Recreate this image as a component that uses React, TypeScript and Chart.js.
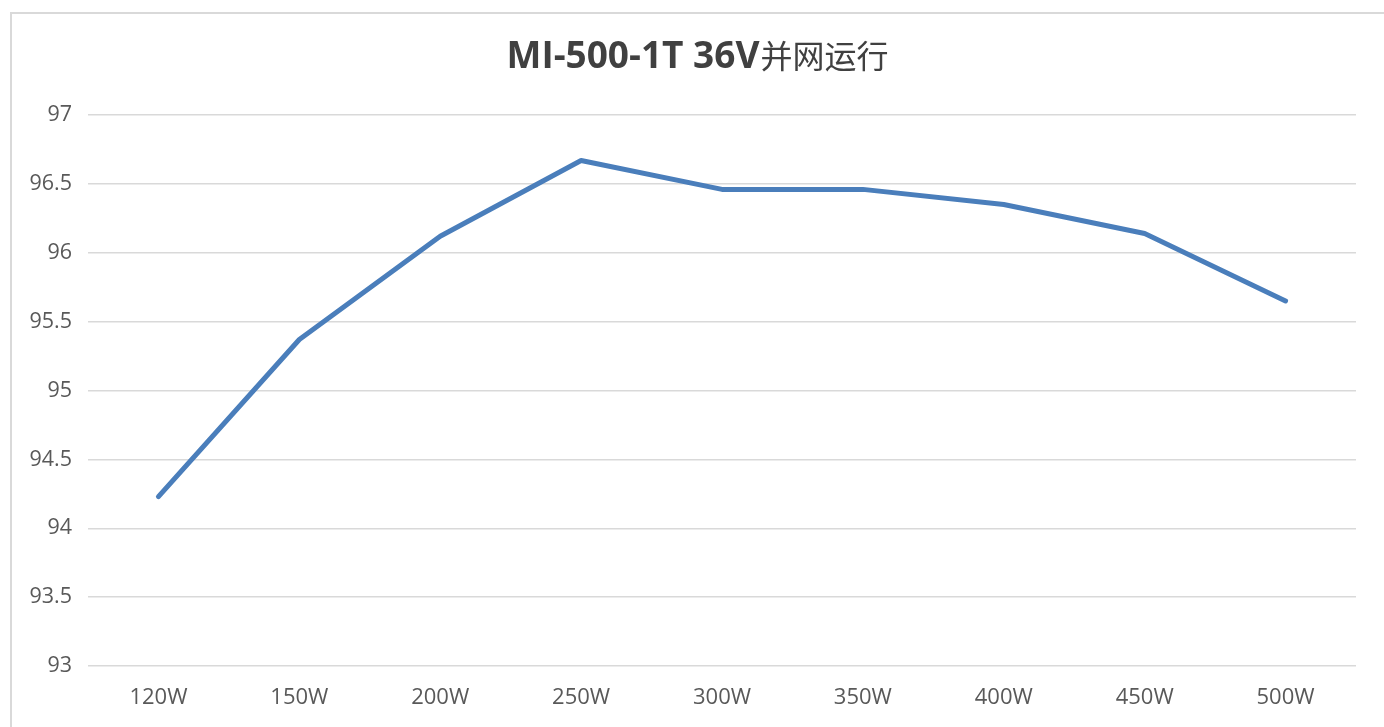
import React, { useEffect, useRef } from "react";
import { Chart, registerables } from "chart.js";

Chart.register(...registerables);

const titleLatin = "MI-500-1T 36V";
const titleCjk = "并网运行";
const categories = ["120W", "150W", "200W", "250W", "300W", "350W", "400W", "450W", "500W"];
const efficiency = [94.23, 95.37, 96.12, 96.67, 96.46, 96.46, 96.35, 96.14, 95.65];
const yMin = 93;
const yMax = 97;
const yStep = 0.5;

const mixedTitle = {
  id: "mixedTitle",
  afterDraw(chart: any) {
    const ctx = chart.ctx;
    ctx.save();
    const latinFont = "bold 37px 'Open Sans', sans-serif";
    const cjkFont = "32px 'Noto Sans CJK SC', sans-serif";
    ctx.font = latinFont;
    const w1 = ctx.measureText(titleLatin).width;
    ctx.font = cjkFont;
    const w2 = ctx.measureText(titleCjk).width;
    const total = w1 + w2;
    const cx = 697;
    const x0 = cx - total / 2;
    const baseY = 68;
    ctx.fillStyle = "#404040";
    ctx.textBaseline = "alphabetic";
    ctx.textAlign = "left";
    ctx.font = latinFont;
    ctx.fillText(titleLatin, x0, baseY);
    ctx.font = cjkFont;
    ctx.fillText(titleCjk, x0 + w1 + 1, baseY);
    ctx.restore();
  },
};

export default function App() {
  const ref = useRef<HTMLCanvasElement | null>(null);

  useEffect(() => {
    if (!ref.current) return;
    const chart = new Chart(ref.current, {
      type: "line",
      data: {
        labels: categories,
        datasets: [
          {
            data: efficiency,
            borderColor: "#4a7ebb",
            backgroundColor: "#4a7ebb",
            borderWidth: 5,
            pointRadius: 0,
            pointHoverRadius: 0,
            tension: 0,
            borderCapStyle: "round",
            borderJoinStyle: "round",
            fill: false,
          },
        ],
      },
      plugins: [mixedTitle],
      options: {
        responsive: false,
        animation: false,
        layout: { padding: { left: 0, right: 28, top: 115, bottom: 0 } },
        plugins: {
          legend: { display: false },
          tooltip: { enabled: false },
          title: { display: false },
        },
        scales: {
          x: {
            offset: true,
            grid: { display: false, drawTicks: false },
            border: { display: false },
            ticks: {
              color: "#595959",
              font: { family: "'Open Sans', sans-serif", size: 22 },
              padding: 19,
              maxRotation: 0,
            },
            afterFit: (scale: any) => {
              scale.height = 61;
            },
          },
          y: {
            min: yMin,
            max: yMax,
            grid: { color: "#d9d9d9", lineWidth: 1.5, drawTicks: false },
            border: { display: false },
            ticks: {
              stepSize: yStep,
              color: "#595959",
              font: { family: "'Open Sans', sans-serif", size: 21.5 },
              padding: 16,
              callback: (v: any) => String(Number(v)),
            },
            afterFit: (scale: any) => {
              scale.width = 88;
            },
          },
        },
      },
    });
    return () => chart.destroy();
  }, []);

  return (
    <div style={{ position: "fixed", left: 0, top: 0, width: 1384, height: 727, overflow: "hidden", background: "#ffffff" }}>
      <div
        style={{
          position: "absolute",
          left: 10,
          top: 12,
          width: 1420,
          height: 800,
          border: "2px solid #d9d9d9",
          boxSizing: "border-box",
        }}
      />
      <canvas ref={ref} width={1384} height={727} style={{ position: "absolute", left: 0, top: 0 }} />
    </div>
  );
}
